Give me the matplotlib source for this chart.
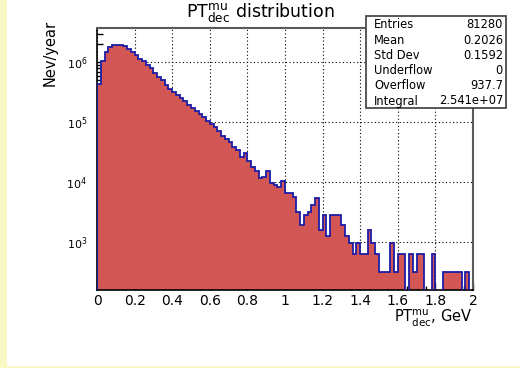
import numpy as np
import matplotlib.pyplot as plt
from matplotlib.patches import Rectangle
from matplotlib.ticker import MultipleLocator, LogLocator, NullFormatter

plt.rcParams['font.family'] = ['DejaVu Sans']
plt.rcParams['mathtext.fontset'] = 'dejavusans'

# entries per 0.02 GeV bin (0..2 GeV), each entry weighted to Nev/year
counts = [1365, 3400, 4800, 5700, 6200, 6300, 6200, 5900, 5400, 4800,
          4200, 3700, 3300, 2900, 2550, 2150, 1850, 1600, 1350, 1150,
          1000, 900, 820, 720, 620, 550, 490, 440, 385, 340,
          300, 265, 225, 185, 170, 150, 124, 110, 85, 96,
          72, 56, 48, 37, 38, 48, 31, 28, 26, 33,
          21, 21, 18, 10, 6, 9, 10, 13, 17, 5,
          9, 4, 9, 9, 9, 6, 4, 3, 2, 3,
          2, 2, 5, 3, 2, 1, 1, 1, 3, 1,
          2, 2, 0, 2, 1, 2, 2, 0, 0, 2,
          0, 0, 1, 1, 1, 1, 1, 0, 1, 0]
weight = 312.6
x_range = (0.0, 2.0)

stat_names = ['Entries', 'Mean', 'Std Dev', 'Underflow', 'Overflow', 'Integral']
stat_values = ['81280', '0.2026', '0.1592', '0', '937.7', '2.541e+07']

x_ticks = [0, 0.2, 0.4, 0.6, 0.8, 1, 1.2, 1.4, 1.6, 1.8, 2]
x_ticklabels = ['0', '0.2', '0.4', '0.6', '0.8', '1', '1.2', '1.4', '1.6', '1.8', '2']
y_ticks = [1e3, 1e4, 1e5, 1e6]
y_ticklabels = [r'$10^{3}$', r'$10^{4}$', r'$10^{5}$', r'$10^{6}$']

heights = np.array(counts) * weight
edges = np.linspace(x_range[0], x_range[1], len(counts) + 1)

W, H = 520, 368
fig = plt.figure(figsize=(W / 100, H / 100), dpi=100, facecolor='#f8f8c4')
fig.patches.append(Rectangle((7 / W, 2.5 / H), 1, 1, transform=fig.transFigure,
                             facecolor='white', edgecolor='none', zorder=-1))

ax = fig.add_axes([97 / W, 1 - 290 / H, (473 - 97) / W, (290 - 28) / H])
ax.set_yscale('log')

ax.stairs(heights, edges, fill=True, color='#d25654', baseline=1.0, zorder=2)
ax.stairs(heights, edges, color='#1c1ca6', lw=1.3, baseline=1.0, zorder=3)

ax.set_xlim(*x_range)
ax.set_ylim(10 ** 2.194, 10 ** 6.573)

ax.set_xticks(x_ticks)
ax.set_xticklabels(x_ticklabels)
ax.xaxis.set_minor_locator(MultipleLocator(0.05))
ax.set_yticks(y_ticks)
ax.set_yticklabels(y_ticklabels)
ax.yaxis.set_minor_locator(LogLocator(base=10, subs=range(2, 10)))
ax.yaxis.set_minor_formatter(NullFormatter())

ax.tick_params(which='both', direction='in', top=False, right=False, color='black')
ax.tick_params(axis='x', which='major', length=5, width=1, pad=3.0, labelsize=10)
ax.tick_params(axis='x', which='minor', length=2.8, width=1)
ax.tick_params(axis='y', which='major', length=8.5, width=1, pad=7, labelsize=8)
ax.tick_params(axis='y', which='minor', length=4.5, width=1)

ax.grid(True, which='major', color='black', ls=(0, (1, 2.2)), lw=0.8)
ax.set_axisbelow(True)

for side in ['left', 'bottom']:
    ax.spines[side].set_color('black')
    ax.spines[side].set_linewidth(1.2)
for side in ['top', 'right']:
    ax.spines[side].set_color('#5a5a5a')
    ax.spines[side].set_linewidth(1.5)

fig.text(260 / W, 1 - 17.5 / H, r'PT$^{\mathrm{mu}}_{\mathrm{dec}}$ distribution',
         ha='center', va='baseline', fontsize=12.5)
fig.text(472 / W, 1 - 322.5 / H, r'PT$^{\mathrm{mu}}_{\mathrm{dec}}$, GeV',
         ha='right', va='baseline', fontsize=10.5)
fig.text(50 / W, 1 - 20 / H, 'Nev/year', rotation=90, ha='center', va='top',
         fontsize=10.5)

# statistics box
fig.patches.append(Rectangle((366 / W, 1 - 108 / H), 140 / W, 92 / H,
                             transform=fig.transFigure, facecolor='white',
                             edgecolor='#4a4a4a', lw=1.3, zorder=5))
for i, (name, val) in enumerate(zip(stat_names, stat_values)):
    yc = 1 - (25 + 15.2 * i) / H
    fig.text(374 / W, yc, name, ha='left', va='center', fontsize=8.3, zorder=6)
    fig.text(503 / W, yc, val, ha='right', va='center', fontsize=8.3, zorder=6)

fig.savefig('out.png', dpi=100, facecolor=fig.get_facecolor())
